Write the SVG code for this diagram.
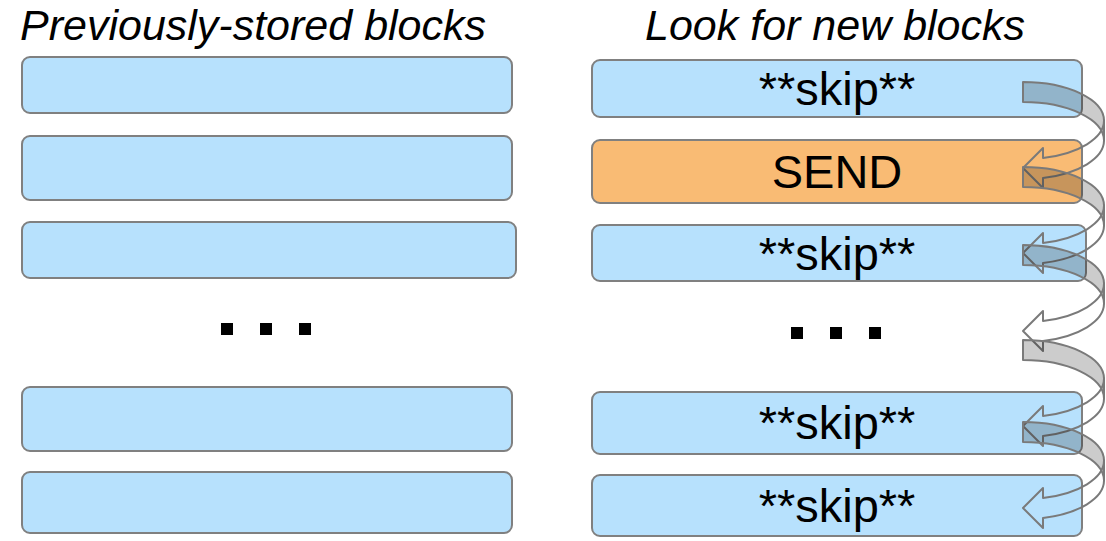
<svg xmlns="http://www.w3.org/2000/svg" xmlns:xlink="http://www.w3.org/1999/xlink" width="1106" height="541" viewBox="0 0 1106 541">
  <style>
    .title { font-family: "Liberation Sans", Arial, sans-serif; font-style: italic; font-size: 43px; fill: #000; }
    .block { fill: #b7e1fd; stroke: #808080; stroke-width: 2; }
    .send { fill: #f9bb74; stroke: #808080; stroke-width: 2; }
    .label { font-family: "Liberation Sans", Arial, sans-serif; font-size: 47px; fill: #000; text-anchor: middle; }
    .dot { fill: #000; }
    .arrow-back { fill: #000; fill-opacity: 0.2; stroke: #7a7a7a; stroke-width: 2; stroke-linejoin: round; }
    .arrow-front { fill: none; stroke: #7a7a7a; stroke-width: 2; stroke-linejoin: round; }
  </style>
  <defs>
    <!-- curved hop arrow: shaded back ribbon + open front ribbon with head -->
    <g id="hop">
      <path class="arrow-back" d="M1023,0 A81,38.6 0 0 1 1104,38.6 L1104,58.6 A81,38.6 0 0 0 1023,20 Z"/>
      <path class="arrow-front" d="M1104,38.6 A81,38.6 0 0 1 1043,76 L1043,66 L1023,86 L1043,106 L1043,96 A81,38.6 0 0 0 1104,58.6 Z"/>
    </g>
  </defs>

  <text class="title" x="20" y="40">Previously-stored blocks</text>
  <text class="title" x="645" y="40">Look for new blocks</text>

  <!-- stored blocks -->
  <g id="stored-1"><rect class="block" x="22" y="57" width="490" height="56" rx="8"/></g>
  <g id="stored-2"><rect class="block" x="22" y="136" width="490" height="64" rx="8"/></g>
  <g id="stored-3"><rect class="block" x="22" y="222" width="494" height="56" rx="8"/></g>
  <g id="stored-dots">
    <rect class="dot" x="221" y="323" width="12" height="12"/>
    <rect class="dot" x="260" y="323" width="12" height="12"/>
    <rect class="dot" x="299" y="323" width="12" height="12"/>
  </g>
  <g id="stored-5"><rect class="block" x="22" y="387" width="490" height="64" rx="8"/></g>
  <g id="stored-6"><rect class="block" x="22" y="472" width="490" height="61" rx="8"/></g>

  <!-- new blocks -->
  <g id="new-1"><rect class="block" x="592" y="60" width="490" height="57" rx="8"/><text class="label" x="837" y="105">**skip**</text></g>
  <g id="new-2"><rect class="send" x="592" y="140" width="490" height="63" rx="8"/><text class="label" x="837" y="188">SEND</text></g>
  <g id="new-3"><rect class="block" x="592" y="225" width="494" height="56" rx="8"/><text class="label" x="837" y="270">**skip**</text></g>
  <g id="new-dots">
    <rect class="dot" x="791" y="327" width="12" height="12"/>
    <rect class="dot" x="830" y="327" width="12" height="12"/>
    <rect class="dot" x="869" y="327" width="12" height="12"/>
  </g>
  <g id="new-5"><rect class="block" x="592" y="392" width="490" height="62" rx="8"/><text class="label" x="837" y="439">**skip**</text></g>
  <g id="new-6"><rect class="block" x="592" y="475" width="490" height="61" rx="8"/><text class="label" x="837" y="522">**skip**</text></g>

  <!-- hop arrows between new blocks -->
  <g id="connectors">
    <use xlink:href="#hop" transform="translate(0,82)"/>
    <use xlink:href="#hop" transform="translate(0,167)"/>
    <use xlink:href="#hop" transform="translate(0,245)"/>
    <use xlink:href="#hop" transform="translate(0,340)"/>
    <use xlink:href="#hop" transform="translate(0,422)"/>
  </g>
</svg>
